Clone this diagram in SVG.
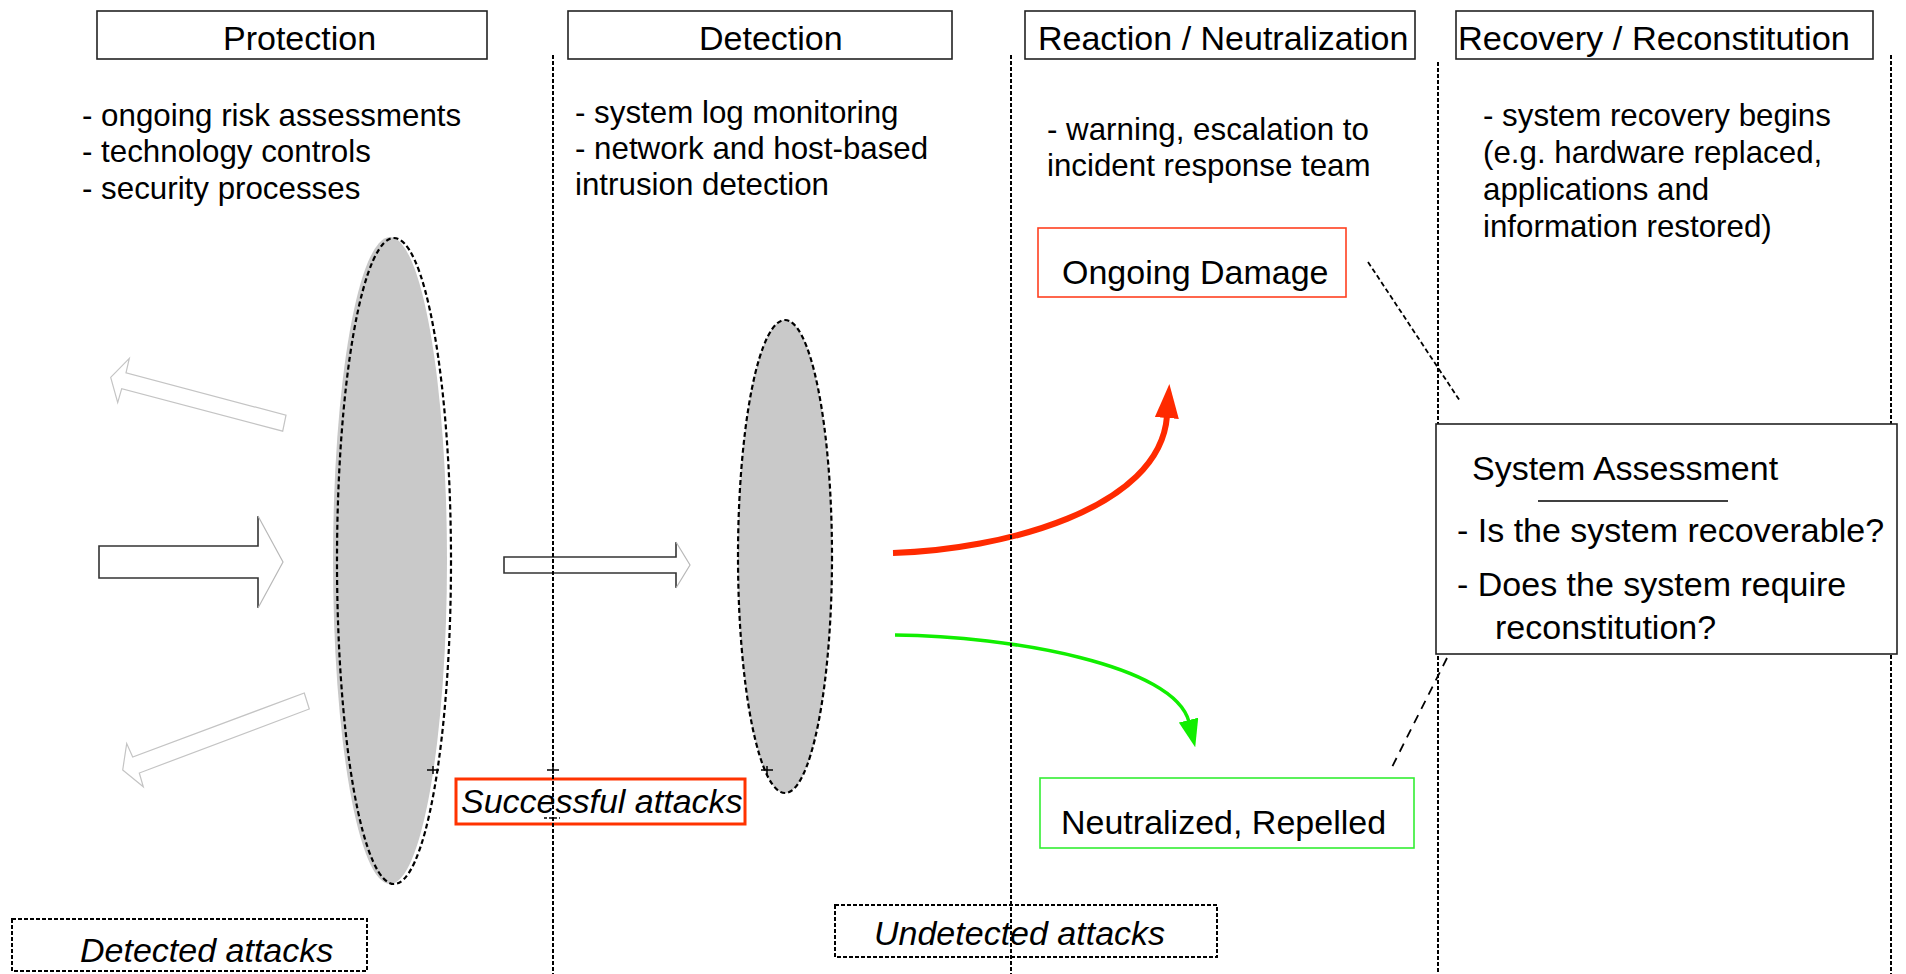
<svg xmlns="http://www.w3.org/2000/svg" width="1906" height="974" viewBox="0 0 1906 974">
  <style>
    text { font-family: "Liberation Sans", Arial, sans-serif; fill: #000; }
    .hdr { font-size: 34px; }
    .body { font-size: 31.3px; }
    .lbl { font-size: 34px; }
    .it { font-size: 34px; font-style: italic; }
    .hbox { fill: #fff; stroke: #222; stroke-width: 1.6; }
    .lane { stroke: #000; stroke-width: 2; stroke-dasharray: 4 2; fill: none; }
    .shield { fill: #c9c9c9; stroke: none; }
    .shield-edge { fill: none; stroke: #000; stroke-width: 2.2; stroke-dasharray: 5 3; }
    .dbox { fill: #fff; stroke: #000; stroke-width: 2; stroke-dasharray: 4 2; }
    .block-dark { fill: none; stroke: #333; stroke-width: 1.6; }
    .block-light { fill: none; stroke: #b8b8b8; stroke-width: 1.2; }
    .ghost { fill: #fff; stroke: #c4c4c4; stroke-width: 1.2; }
    .tick { stroke: #000; stroke-width: 1.5; }
  </style>
  <defs>
    <marker id="head-red" viewBox="0 0 34 24" refX="2" refY="12" markerWidth="34" markerHeight="24" markerUnits="userSpaceOnUse" orient="auto">
      <path d="M0,0 L34,12 L0,24 z" fill="#ff2a00"/>
    </marker>
    <marker id="head-green" viewBox="0 0 28 20" refX="2" refY="10" markerWidth="28" markerHeight="20" markerUnits="userSpaceOnUse" orient="auto">
      <path d="M0,0 L28,10 L0,20 z" fill="#11ee00"/>
    </marker>
  </defs>

  <rect width="1906" height="974" fill="#fff"/>

  <!-- phase headers -->
  <g id="hdr-protection">
    <rect class="hbox" x="97" y="11" width="390" height="48"/>
    <text class="hdr" x="223" y="50">Protection</text>
  </g>
  <g id="hdr-detection">
    <rect class="hbox" x="568" y="11" width="384" height="48"/>
    <text class="hdr" x="699" y="50">Detection</text>
  </g>
  <g id="hdr-reaction">
    <rect class="hbox" x="1025" y="11" width="390" height="48"/>
    <text class="hdr" x="1038" y="50">Reaction / Neutralization</text>
  </g>
  <g id="hdr-recovery">
    <rect class="hbox" x="1456" y="11" width="417" height="48"/>
    <text class="hdr" x="1458" y="50" textLength="392" lengthAdjust="spacingAndGlyphs">Recovery / Reconstitution</text>
  </g>

  <!-- phase descriptions -->
  <g id="desc-protection">
    <text class="body" x="82" y="126">- ongoing risk assessments</text>
    <text class="body" x="82" y="162">- technology controls</text>
    <text class="body" x="82" y="199">- security processes</text>
  </g>
  <g id="desc-detection">
    <text class="body" x="575" y="123">- system log monitoring</text>
    <text class="body" x="575" y="159">- network and host-based</text>
    <text class="body" x="575" y="195">intrusion detection</text>
  </g>
  <g id="desc-reaction">
    <text class="body" x="1047" y="140">- warning, escalation to</text>
    <text class="body" x="1047" y="176">incident response team</text>
  </g>
  <g id="desc-recovery">
    <text class="body" x="1483" y="126">- system recovery begins</text>
    <text class="body" x="1483" y="163">(e.g. hardware replaced,</text>
    <text class="body" x="1483" y="200">applications and</text>
    <text class="body" x="1483" y="237">information restored)</text>
  </g>

  <!-- barriers -->
  <g id="barrier-protection">
    <ellipse class="shield" cx="390" cy="560.5" rx="57" ry="323.5"/>
    <ellipse class="shield-edge" cx="394" cy="561" rx="57" ry="323"/>
  </g>
  <g id="barrier-detection">
    <ellipse class="shield" cx="785" cy="556.5" rx="47" ry="236.5"/>
    <ellipse class="shield-edge" cx="785" cy="556.5" rx="47" ry="236.5"/>
  </g>

  <!-- attack flows -->
  <g id="flow-incoming">
    <polygon points="99,546 258,546 258,516 283,562 258,608 258,578 99,578" fill="#fff"/>
    <polyline class="block-dark" points="258,516 258,546 99,546 99,578 258,578 258,608"/>
    <polyline class="block-light" points="258,516 283,562 258,608"/>
  </g>
  <g id="flow-through">
    <polygon points="504,557 676,557 676,542 690,565 676,588 676,573 504,573" fill="#fff"/>
    <polyline class="block-dark" points="676,542 676,557 504,557 504,573 676,573 676,588"/>
    <polyline class="block-light" points="676,542 690,565 676,588"/>
  </g>
  <g id="flow-deflect-up">
    <polygon class="ghost" points="110.7,377.3 129.3,358.4 126,372.9 286,415.2 282.7,431.2 121.7,388.7 117.7,402.6"/>
  </g>
  <g id="flow-deflect-down">
    <polygon class="ghost" points="122.7,770 126.7,743.5 132.7,757 304.3,693 309.3,709 139.3,773 143.3,786.8"/>
  </g>

  <!-- connectors -->
  <g id="connectors" fill="none">
    <path d="M893,553 C1000,550 1160,510 1167,416" stroke="#ff2a00" stroke-width="6" marker-end="url(#head-red)"/>
    <path d="M895,635 C1010,636 1175,665 1189,722" stroke="#11ee00" stroke-width="3.5" marker-end="url(#head-green)"/>
    <line x1="1368" y1="262" x2="1460" y2="401" stroke="#000" stroke-width="1.8" stroke-dasharray="5 3"/>
    <line x1="1447" y1="658" x2="1390" y2="771" stroke="#000" stroke-width="1.8" stroke-dasharray="9 7"/>
  </g>

  <!-- outcome boxes -->
  <g id="box-damage">
    <rect x="1038" y="228" width="308" height="69" fill="#fff" stroke="#ff4020" stroke-width="1.6"/>
    <text class="lbl" x="1062" y="284">Ongoing Damage</text>
  </g>
  <g id="box-neutralized">
    <rect x="1040" y="778" width="374" height="70" fill="#fff" stroke="#33ee33" stroke-width="1.6"/>
    <text class="lbl" x="1061" y="834">Neutralized, Repelled</text>
  </g>
  <g id="box-successful">
    <rect x="456" y="779" width="289" height="45" fill="#fff" stroke="#ff3300" stroke-width="3"/>
    <text class="it" x="461" y="813">Successful attacks</text>
  </g>
  <g id="box-detected">
    <rect class="dbox" x="12" y="919" width="355" height="52"/>
    <text class="it" x="80" y="962">Detected attacks</text>
  </g>
  <g id="box-undetected">
    <rect class="dbox" x="835" y="905" width="382" height="52"/>
    <text class="it" x="874" y="945">Undetected attacks</text>
  </g>

  <!-- phase separators -->
  <g id="lanes">
    <line class="lane" x1="553" y1="55" x2="553" y2="974"/>
    <line class="lane" x1="1011" y1="55" x2="1011" y2="974"/>
    <line class="lane" x1="1438" y1="62" x2="1438" y2="974"/>
    <line class="lane" x1="1891" y1="55" x2="1891" y2="974"/>
  </g>

  <!-- small handle marks -->
  <g id="marks" class="tick">
    <line x1="427" y1="770" x2="439" y2="770"/>
    <line x1="433" y1="766" x2="433" y2="774"/>
    <line x1="547" y1="770" x2="559" y2="770"/>
    <line x1="553" y1="766" x2="553" y2="774"/>
    <line x1="761" y1="770" x2="773" y2="770"/>
    <line x1="767" y1="766" x2="767" y2="774"/>
    <line x1="544" y1="818" x2="560" y2="818" stroke-dasharray="3 2"/>
  </g>

  <!-- assessment panel -->
  <g id="box-assessment">
    <rect x="1436" y="424" width="461" height="230" fill="#fff" stroke="#222" stroke-width="1.6"/>
    <text class="lbl" x="1472" y="480">System Assessment</text>
    <line x1="1538" y1="501" x2="1728" y2="501" stroke="#000" stroke-width="1.6"/>
    <text class="lbl" x="1457" y="542">- Is the system recoverable?</text>
    <text class="lbl" x="1457" y="596">- Does the system require</text>
    <text class="lbl" x="1495" y="639">reconstitution?</text>
  </g>
</svg>
